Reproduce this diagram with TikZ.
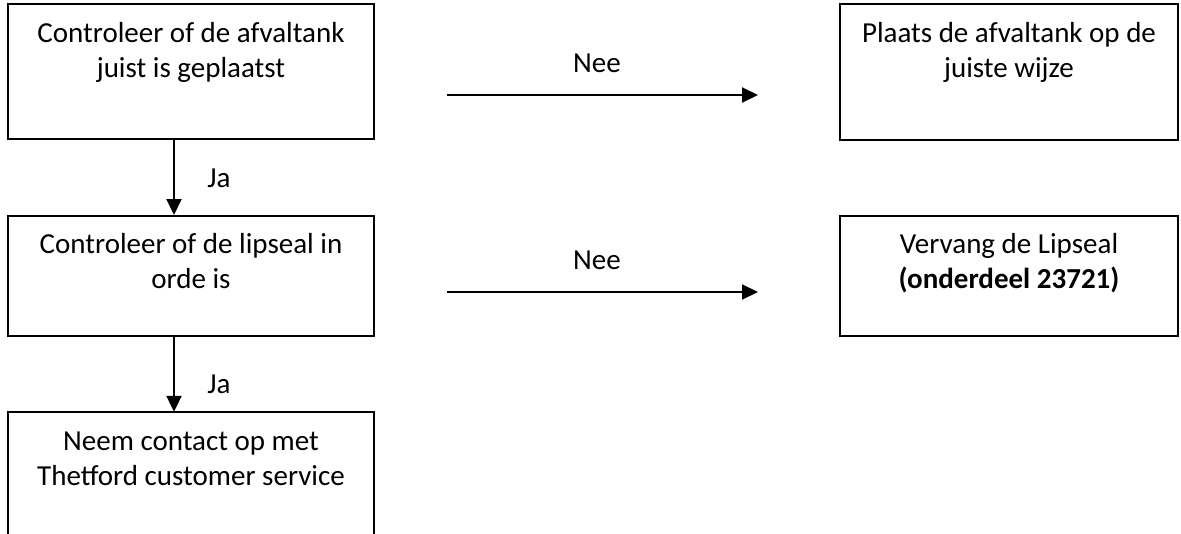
\documentclass[tikz,border=0pt]{standalone}
\usepackage{fontspec}
\setmainfont{Carlito}
\usetikzlibrary{arrows.meta,calc}
\begin{document}
\begin{tikzpicture}[x=1pt,y=-1pt,
  box/.style={draw=black,line width=2pt,inner sep=0pt},
  lbl/.style={font=\fontsize{29}{35}\selectfont,align=center,anchor=base,inner sep=0pt},
  arr/.style={line width=2pt,-{Triangle[length=16pt,width=15pt]}}]
\useasboundingbox (0,0) rectangle (1181,533);
% left column
\node[box,minimum width=366pt,minimum height=135pt] (b1) at (191,71.5) {};
\node[box,minimum width=366pt,minimum height=120pt] (b2) at (191,276) {};
\node[inner sep=0pt,minimum width=366pt,minimum height=122pt] (b3) at (191,473) {};
\draw[line width=2pt] (b3.south west) -- (b3.north west) -- (b3.north east) -- (b3.south east);
% right column
\node[box,minimum width=338pt,minimum height=136pt] (r1) at (1009,72) {};
\node[box,minimum width=338pt,minimum height=120pt] (r2) at (1009,276) {};
% texts (base anchor = last line baseline)
\node[lbl] (t1) at (191,77) {Controleer of de afvaltank\\juist is geplaatst};
\node[lbl] (t2) at (191,288) {Controleer of de lipseal in\\orde is};
\node[lbl] (t3) at (191,485) {Neem contact op met\\Thetford customer service};
\node[lbl] (t4) at (1009,77) {Plaats de afvaltank op de\\juiste wijze};
\node[lbl] (t5) at (1009,288) {Vervang de Lipseal\\\textbf{(onderdeel 23721)}};
% horizontal arrows
\coordinate (h1s) at (447,95);
\coordinate (h1e) at (758,95);
\coordinate (h2s) at (447,292);
\coordinate (h2e) at (758,292);
\draw[arr] (h1s) -- (h1e);
\draw[arr] (h2s) -- (h2e);
\node[lbl] (n1) at (597,72) {Nee};
\node[lbl] (n2) at (597,269) {Nee};
% vertical arrows
\draw[arr] (b1.south -| 174,0) -- (b2.north -| 174,0);
\draw[arr] (b2.south -| 174,0) -- (b3.north -| 174,0);
\node[lbl] (j1) at (219,187) {Ja};
\node[lbl] (j2) at (219,393) {Ja};
\end{tikzpicture}
\end{document}
